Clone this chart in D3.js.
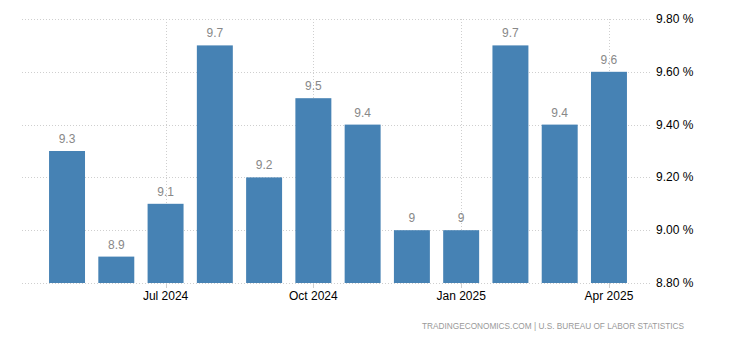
<!DOCTYPE html>
<html>
<head>
<meta charset="utf-8">
<script src="https://cdn.jsdelivr.net/npm/d3@7/dist/d3.min.js"></script>
<style>
  html, body { margin: 0; padding: 0; background: #fff; }
  svg { display: block; font-family: "Liberation Sans", Arial, sans-serif; }
</style>
</head>
<body>
<svg id="chart" width="730" height="340"></svg>
<script>
// Monthly series, May 2024 – Apr 2025
const months = ["2024-05", "2024-06", "2024-07", "2024-08", "2024-09", "2024-10",
                "2024-11", "2024-12", "2025-01", "2025-02", "2025-03", "2025-04"];
const values = [9.3, 8.9, 9.1, 9.7, 9.2, 9.5, 9.4, 9, 9, 9.7, 9.4, 9.6];
const yTicks = [8.8, 9.0, 9.2, 9.4, 9.6, 9.8];
const xTickMonths = ["2024-07", "2024-10", "2025-01", "2025-04"];
const xTickLabels = ["Jul 2024", "Oct 2024", "Jan 2025", "Apr 2025"];
const sourceText = "TRADINGECONOMICS.COM | U.S. BUREAU OF LABOR STATISTICS";

const svg = d3.select("#chart");
const gridLeft = 22, gridRight = 651, plotTop = 19, plotBottom = 283;

const x = d3.scaleBand()
  .domain(months)
  .range([42.4, 633.6])
  .paddingInner(0.27)
  .paddingOuter(0.135);

const y = d3.scaleLinear().domain([8.8, 9.8]).range([plotBottom, plotTop]);

// horizontal grid
svg.append("g").selectAll("line").data(yTicks).join("line")
  .attr("x1", gridLeft).attr("x2", gridRight)
  .attr("y1", d => Math.round(y(d)) + 0.5).attr("y2", d => Math.round(y(d)) + 0.5)
  .attr("stroke", "#cfcfcf").attr("stroke-dasharray", "1,2");

// vertical grid at labelled months
const cx = m => Math.round(x(m) + x.bandwidth() / 2) + 0.5;
svg.append("g").selectAll("line").data(xTickMonths).join("line")
  .attr("x1", cx).attr("x2", cx)
  .attr("y1", plotTop).attr("y2", plotBottom)
  .attr("stroke", "#cfcfcf").attr("stroke-dasharray", "1,2");

// bars
svg.append("g").selectAll("rect").data(values).join("rect")
  .attr("x", (d, i) => x(months[i]))
  .attr("width", x.bandwidth())
  .attr("y", d => y(d))
  .attr("height", d => plotBottom - y(d))
  .attr("fill", "#4682b4");

// value labels
svg.append("g").selectAll("text").data(values).join("text")
  .attr("x", (d, i) => x(months[i]) + x.bandwidth() / 2)
  .attr("y", d => y(d) - 8)
  .attr("text-anchor", "middle")
  .attr("font-size", 12)
  .attr("fill", "#888")
  .text(d => d3.format("")(d));

// x tick marks
svg.append("g").selectAll("line").data(xTickMonths).join("line")
  .attr("x1", cx).attr("x2", cx)
  .attr("y1", plotBottom).attr("y2", plotBottom + 5)
  .attr("stroke", "#cfcfcf");

// x axis labels
svg.append("g").selectAll("text").data(xTickMonths).join("text")
  .attr("x", m => x(m) + x.bandwidth() / 2)
  .attr("y", 300)
  .attr("text-anchor", "middle")
  .attr("font-size", 12)
  .attr("fill", "#000")
  .text((m, i) => xTickLabels[i]);

// y axis labels on the right
svg.append("g").selectAll("text").data(yTicks).join("text")
  .attr("x", 656)
  .attr("y", d => y(d) + 4)
  .attr("font-size", 12)
  .attr("fill", "#000")
  .text(d => d3.format(".2f")(d) + " %");

// source line
svg.append("text")
  .attr("x", 422).attr("y", 329)
  .attr("font-size", 8.5)
  .attr("fill", "#999")
  .attr("textLength", 262)
  .attr("lengthAdjust", "spacingAndGlyphs")
  .text(sourceText);
</script>
</body>
</html>
